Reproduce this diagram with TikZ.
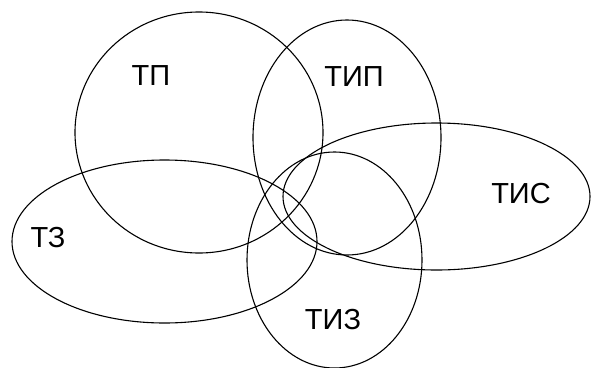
\documentclass[tikz,border=0pt]{standalone}
\usepackage{fontspec}
\setmainfont{Liberation Sans}
\begin{document}
\begin{tikzpicture}[x=1pt,y=-1pt,
  set/.style={draw=black,line width=1.1pt},
  lbl/.style={font=\fontsize{29}{29}\selectfont,inner sep=0pt}]
\useasboundingbox (0,0) rectangle (591,367);
% sets
\draw[set] (199,132.5) ellipse [x radius=124, y radius=120.5];
\draw[set] (347,137.5) ellipse [x radius=94, y radius=117.5];
\draw[set] (436.5,196.5) ellipse [x radius=153.5, y radius=73.5];
\draw[set] (164.5,241.5) ellipse [x radius=152.5, y radius=81.5];
\draw[set] (334.5,260) ellipse [x radius=87.5, y radius=108];
% labels
\node[lbl] (tp)  at (151,76)    {ТП};
\node[lbl] (tip) at (354,77)    {ТИП};
\node[lbl] (tis) at (521,193.5) {ТИС};
\node[lbl] (tz)  at (48,237.5)  {ТЗ};
\node[lbl] (tiz) at (333,320)   {ТИЗ};
\end{tikzpicture}
\end{document}
